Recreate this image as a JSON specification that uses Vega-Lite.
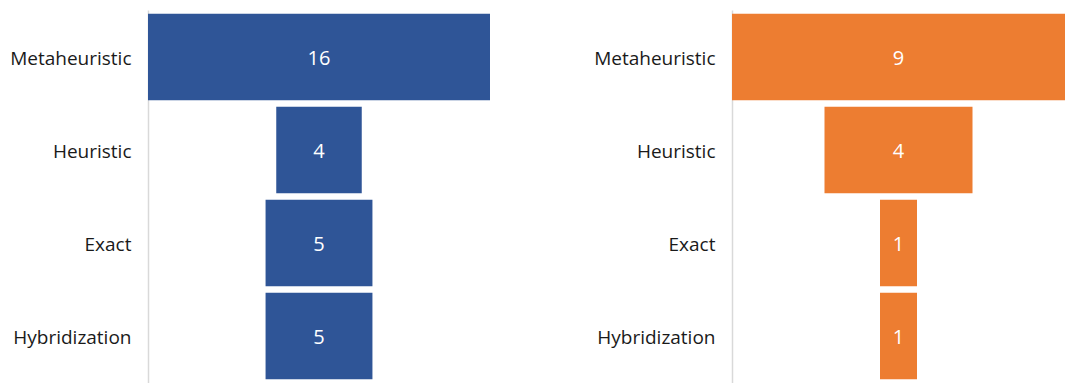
{
  "$schema": "https://vega.github.io/schema/vega-lite/v6.json",
  "padding": {"left": 9, "top": 10, "right": 0, "bottom": 0},
  "spacing": 103,
  "config": {
    "view": {"stroke": null},
    "font": "Open Sans",
    "axis": {"labelFont": "Open Sans", "labelFontSize": 19, "labelColor": "#1a1a1a"}
  },
  "datasets": {
    "left": [
      {"method": "Metaheuristic", "count": 16},
      {"method": "Heuristic", "count": 4},
      {"method": "Exact", "count": 5},
      {"method": "Hybridization", "count": 5}
    ],
    "right": [
      {"method": "Metaheuristic", "count": 9},
      {"method": "Heuristic", "count": 4},
      {"method": "Exact", "count": 1},
      {"method": "Hybridization", "count": 1}
    ]
  },
  "hconcat": [
    {
      "data": {"name": "left"},
      "width": 342,
      "height": 373,
      "encoding": {
        "y": {
          "field": "method", "type": "nominal", "sort": null,
          "scale": {"paddingInner": 0.07, "paddingOuter": 0.04},
          "axis": {"title": null, "ticks": false, "domainColor": "#d9d9d9", "domainWidth": 1.5, "labelPadding": 17, "labelOffset": 2}
        }
      },
      "layer": [
        {
          "mark": {"type": "bar", "color": "#2F5597"},
          "encoding": {
            "x": {"field": "count", "type": "quantitative", "stack": "center", "scale": {"domain": [0, 16], "nice": false}, "axis": null}
          }
        },
        {
          "mark": {"type": "text", "color": "white", "fontSize": 20, "font": "Open Sans", "dy": 2},
          "encoding": {
            "x": {"datum": 8, "type": "quantitative"},
            "text": {"field": "count", "type": "quantitative"}
          }
        }
      ]
    },
    {
      "data": {"name": "right"},
      "width": 333,
      "height": 373,
      "encoding": {
        "y": {
          "field": "method", "type": "nominal", "sort": null,
          "scale": {"paddingInner": 0.07, "paddingOuter": 0.04},
          "axis": {"title": null, "ticks": false, "domainColor": "#d9d9d9", "domainWidth": 1.5, "labelPadding": 17, "labelOffset": 2}
        }
      },
      "layer": [
        {
          "mark": {"type": "bar", "color": "#ED7D31"},
          "encoding": {
            "x": {"field": "count", "type": "quantitative", "stack": "center", "scale": {"domain": [0, 9], "nice": false}, "axis": null}
          }
        },
        {
          "mark": {"type": "text", "color": "white", "fontSize": 20, "font": "Open Sans", "dy": 2},
          "encoding": {
            "x": {"datum": 4.5, "type": "quantitative"},
            "text": {"field": "count", "type": "quantitative"}
          }
        }
      ]
    }
  ]
}
